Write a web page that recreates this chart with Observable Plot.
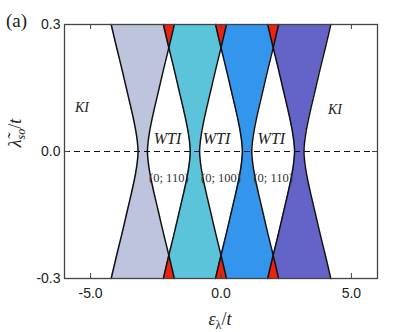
<!DOCTYPE html>
<html>
<head>
<meta charset="utf-8">
<script src="https://cdn.jsdelivr.net/npm/d3@7"></script>
<script src="https://cdn.jsdelivr.net/npm/@observablehq/plot@0.6"></script>
<style>
  body { margin: 0; background: #fff; }
  #wrap { position: relative; width: 415px; height: 332px; }
</style>
</head>
<body>
<div id="wrap"></div>
<script>
// ---- data ----
const bandNames = ["band1", "band2", "band3", "band4"];
const bandCenters = [-3, -1, 1, 3];
const bandColors = ["#bec3de", "#5bc3da", "#3396ec", "#6464c8"];
const overlapColor = "#ee2010";
// sampled lambda_so/t values and the half-width of each band there
const ySamples = [-0.3, -0.245, -0.2, -0.15, -0.1, -0.075, -0.05, -0.025, 0, 0.025, 0.05, 0.075, 0.1, 0.15, 0.2, 0.245, 0.3];
const halfWidths = [1.21, 1.0, 0.82, 0.63, 0.44, 0.35, 0.27, 0.21, 0.18, 0.21, 0.27, 0.35, 0.44, 0.63, 0.82, 1.0, 1.21];
const xTicks = [-5, 0, 5];
const yTicks = [-0.3, 0, 0.3];
const phaseLabels = [
  {x: -5.33, y: 0.105, text: "KI"},
  {x: 4.37, y: 0.10, text: "KI"}
];
const wtiLabels = [
  {x: -2.05, y: 0.03, text: "WTI"},
  {x: -0.17, y: 0.03, text: "WTI"},
  {x: 1.93, y: 0.03, text: "WTI"}
];
const indexLabels = [
  {x: -2.0, y: -0.062, text: "(0; 110)"},
  {x: 0.0, y: -0.062, text: "(0; 100)"},
  {x: 2.0, y: -0.062, text: "(0; 110)"}
];

// ---- build tables ----
const bandRows = [];
bandNames.forEach((name, i) => {
  ySamples.forEach((y, j) => {
    bandRows.push({band: name, y, x1: bandCenters[i] - halfWidths[j], x2: bandCenters[i] + halfWidths[j]});
  });
});
const overlapRows = [];
for (let i = 0; i < bandCenters.length - 1; i++) {
  ySamples.forEach((y, j) => {
    const left = bandCenters[i + 1] - halfWidths[j];
    const right = bandCenters[i] + halfWidths[j];
    if (right >= left - 1e-9) {
      overlapRows.push({key: i + (y > 0 ? "t" : "b"), y, x1: left, x2: right});
    }
  });
}

const W = 415, H = 332, mL = 64, mR = 38, mT = 24, mB = 54;
const serif = "'Liberation Serif', 'DejaVu Serif', serif";

const chart = Plot.plot({
  width: W, height: H,
  marginLeft: mL, marginRight: mR, marginTop: mT, marginBottom: mB,
  x: {domain: [-6, 6]},
  y: {domain: [-0.3, 0.3]},
  color: {domain: bandNames, range: bandColors},
  style: {fontFamily: "'Liberation Sans', Arial, sans-serif", fontSize: "14px", color: "#222", background: "#fff", overflow: "visible"},
  marks: [
    Plot.areaX(bandRows, {y: "y", x1: "x1", x2: "x2", z: "band", fill: "band", curve: "catmull-rom"}),
    Plot.areaX(overlapRows, {y: "y", x1: "x1", x2: "x2", z: "key", fill: overlapColor}),
    Plot.ruleY([0], {stroke: "#111", strokeWidth: 1, strokeDasharray: "6,4"}),
    Plot.line(bandRows, {y: "y", x: "x1", z: "band", stroke: "#111", strokeWidth: 1.5, curve: "catmull-rom"}),
    Plot.line(bandRows, {y: "y", x: "x2", z: "band", stroke: "#111", strokeWidth: 1.5, curve: "catmull-rom"}),
    Plot.text(phaseLabels, {x: "x", y: "y", text: "text", fontFamily: serif, fontStyle: "italic", fontSize: 14, fill: "#222"}),
    Plot.text(wtiLabels, {x: "x", y: "y", text: "text", fontFamily: serif, fontStyle: "italic", fontSize: 16, fill: "#222", letterSpacing: "0.5px"}),
    Plot.text(indexLabels, {x: "x", y: "y", text: "text", fontFamily: serif, fontSize: 12.5, fill: "#333"}),
    Plot.tickX(xTicks, {x: d => d, insetTop: H - mT - mB - 5, stroke: "#444"}),
    Plot.tickX(xTicks, {x: d => d, insetBottom: H - mT - mB - 5, stroke: "#444"}),
    Plot.tickY(yTicks, {y: d => d, insetRight: W - mL - mR - 5, stroke: "#444"}),
    Plot.tickY(yTicks, {y: d => d, insetLeft: W - mL - mR - 5, stroke: "#444"}),
    Plot.axisX({ticks: xTicks, anchor: "bottom", tickSize: 0, tickPadding: 10, tickFormat: d => d.toFixed(1), label: null, fontSize: 14}),
    Plot.axisY({ticks: yTicks, anchor: "left", tickSize: 0, tickPadding: 4, tickFormat: d => d.toFixed(1), label: null, fontSize: 14}),
    Plot.frame({stroke: "#444", strokeWidth: 1.3})
  ]
});
document.getElementById("wrap").appendChild(chart);

// axis titles and panel label with sub/superscripts
const svg = d3.select(chart);
const xl = svg.append("text")
  .attr("x", 220).attr("y", 325).attr("text-anchor", "middle")
  .attr("font-family", serif).attr("font-size", 18).attr("fill", "#222");
xl.append("tspan").attr("font-style", "italic").text("ε");
xl.append("tspan").attr("font-size", 12).attr("dy", 4).text("λ");
xl.append("tspan").attr("dy", -4).text("/");
xl.append("tspan").attr("font-style", "italic").text("t");

const yl = svg.append("text")
  .attr("transform", "translate(21,133) rotate(-90)").attr("text-anchor", "middle")
  .attr("font-family", serif).attr("font-size", 18).attr("fill", "#222");
yl.append("tspan").attr("font-style", "italic").text("λ\u0303");
yl.append("tspan").attr("font-size", 12).attr("font-style", "italic").attr("dy", 4).text("so");
yl.append("tspan").attr("dy", -4).text("/");
yl.append("tspan").attr("font-style", "italic").text("t");

svg.append("text").attr("x", 6).attr("y", 27).attr("text-anchor", "start")
  .attr("font-family", serif).attr("font-size", 19).attr("fill", "#222").text("(a)");
</script>
</body>
</html>
